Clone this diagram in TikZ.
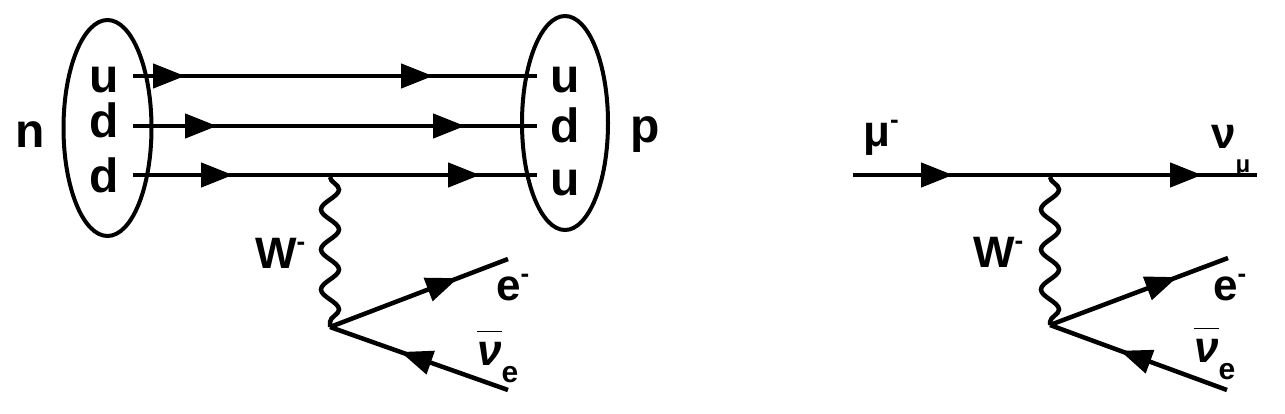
\documentclass[tikz,border=0pt]{standalone}
\usepackage{fontspec}
\setmainfont{Liberation Sans}
\usetikzlibrary{arrows.meta,decorations.pathmorphing,decorations.markings,shapes.geometric,positioning}
\newcommand{\chg}{\raisebox{18pt}{\fontsize{26}{26}\selectfont -}}
\newcommand{\nubar}{$\overline{\hbox{\itshape ν}\rule{0pt}{32pt}}$}

\tikzset{
  lab/.style={inner sep=0pt,font=\bfseries\fontsize{44}{44}\selectfont},
  quark/.style={lab,anchor=base,font=\bfseries\fontsize{48}{48}\selectfont},
  hadron/.style={draw,ellipse,line width=4pt,inner sep=0pt},
  fermion/.style={line width=4.5pt},
  arrowat/.style={postaction={decorate},decoration={markings,
    mark=at position #1 with {\arrow{Triangle[length=32pt,width=24pt]}}}},
  arrowsat/.style 2 args={postaction={decorate},decoration={markings,
    mark=at position #1 with {\arrow{Triangle[length=32pt,width=24pt]}},
    mark=at position #2 with {\arrow{Triangle[length=32pt,width=24pt]}}}},
  boson/.style={line width=4.5pt,decorate,decoration={snake,segment length=40pt,amplitude=9pt}}
}

\begin{document}
\begin{tikzpicture}[x=1pt,y=-1pt]
    \useasboundingbox (0,0) rectangle (1285,413);

    % beta decay of the neutron
    \node[hadron,minimum width=88pt,minimum height=216pt] (neutron) at (107.5,128) {};
    \node[hadron,minimum width=86pt,minimum height=214pt] (proton) at (565,123) {};
    \node[quark] (n) at (30,147) {n};
    \node[quark] (p) at (645,142) {p};
    \node[quark] (qa) at (104.5,92) {u};
    \node[quark] (qb) at (104.5,137) {d};
    \node[quark] (qc) at (104.5,192) {d};
    \node[quark] (qd) at (565,92) {u};
    \node[quark] (qe) at (565,142) {d};
    \node[quark] (qf) at (565,195) {u};

    \coordinate (a1) at (133,76);  \coordinate (b1) at (537,76);
    \coordinate (a2) at (133,126); \coordinate (b2) at (537,126);
    \coordinate (a3) at (133,175); \coordinate (b3) at (537,175);
    \coordinate (w1) at (330,177);
    \coordinate (v1) at (330,327);
    \coordinate (e1) at (508,259);
    \coordinate (nu1) at (508,390);

    \draw[fermion,arrowsat={52pt}{300pt}] (a1) -- (b1);
    \draw[fermion,arrowsat={84pt}{332pt}] (a2) -- (b2);
    \draw[fermion,arrowsat={100pt}{347pt}] (a3) -- (b3);
    \draw[boson] (w1) -- (v1);
    \draw[fermion,arrowat=137pt] (v1) -- (e1);
    \draw[fermion,arrowat=114pt] (nu1) -- (v1);

    \node[lab,anchor=base west] (W1) at (255,268) {W\chg};
    \node[lab,anchor=base west] (el1) at (496,300) {e\chg};
    \node[lab,anchor=base west] (anu1) at (477,365) {\nubar\raisebox{-17pt}{\fontsize{30}{30}\selectfont e}};

    % muon decay
    \coordinate (a4) at (853,175); \coordinate (b4) at (1257,175);
    \coordinate (w2) at (1050,177);
    \coordinate (v2) at (1050,325);
    \coordinate (e2) at (1228,258);
    \coordinate (nu2) at (1227,390);

    \draw[fermion,arrowsat={100pt}{349pt}] (a4) -- (b4);
    \draw[boson] (w2) -- (v2);
    \draw[fermion,arrowat=136pt] (v2) -- (e2);
    \draw[fermion,arrowat=114pt] (nu2) -- (v2);

    \node[lab,anchor=base west] (mu) at (863,146) {μ\chg};
    \node[lab,anchor=base west] (numu) at (1211,148) {ν\raisebox{-24pt}{\fontsize{24}{24}\selectfont μ}};
    \node[lab,anchor=base west] (W2) at (973,267) {W\chg};
    \node[lab,anchor=base west] (el2) at (1213,300) {e\chg};
    \node[lab,anchor=base west] (anu2) at (1194,362) {\nubar\raisebox{-17pt}{\fontsize{30}{30}\selectfont e}};
\end{tikzpicture}
\end{document}
